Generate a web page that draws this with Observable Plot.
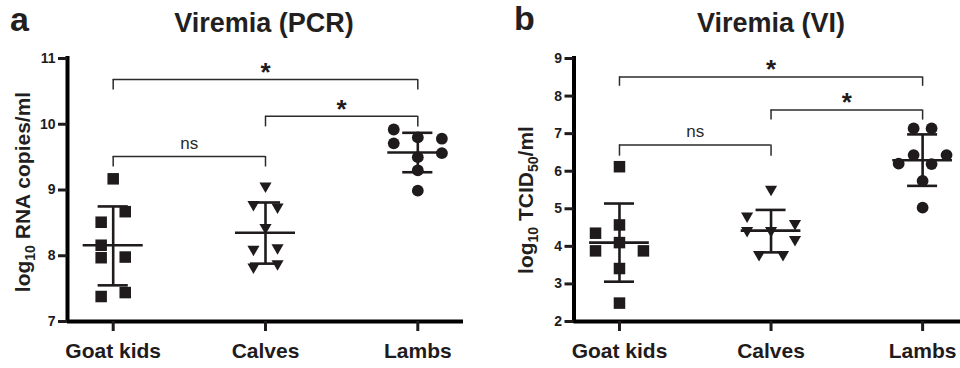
<!DOCTYPE html>
<html>
<head>
<meta charset="utf-8">
<script src="https://cdn.jsdelivr.net/npm/d3@7"></script>
<script src="https://cdn.jsdelivr.net/npm/@observablehq/plot@0.6"></script>
<style>
  html,body{margin:0;padding:0;background:#fff;}
  #fig{position:relative;width:960px;height:368px;overflow:hidden;font-family:"Liberation Sans",Arial,Helvetica,sans-serif;color:#231f20;}
  .panel{position:absolute;top:0;width:480px;height:368px;}
  .txt{position:absolute;white-space:nowrap;line-height:1;font-weight:bold;}
  .ylab{position:absolute;white-space:nowrap;line-height:1;font-weight:bold;font-size:21px;transform:translate(-50%,-50%) rotate(-90deg);}
  .ylab span{font-size:14px;position:relative;top:5px;}
</style>
</head>
<body>
<div id="fig">
  <div class="panel" id="pa" style="left:0"></div>
  <div class="panel" id="pb" style="left:480px"></div>
  <div class="txt" style="left:10px;top:2px;font-size:34px">a</div>
  <div class="txt" style="left:514px;top:1px;font-size:34px">b</div>
  <div class="txt" style="left:264px;top:10px;font-size:27px;transform:translateX(-50%)">Viremia (PCR)</div>
  <div class="txt" style="left:771px;top:10px;font-size:27px;transform:translateX(-50%)">Viremia (VI)</div>
  <div class="ylab" style="left:22px;top:192px">log<span>10</span> RNA copies/ml</div>
  <div class="ylab" style="left:525px;top:200px">log<span>10</span> TCID<span>50</span>/ml</div>
</div>
<script>
// ---------- shared ----------
const categories = ["Goat kids", "Calves", "Lambs"];
const compFrom  = ["Goat kids", "Calves", "Goat kids"];
const compTo    = ["Lambs", "Lambs", "Calves"];
const compLabel = ["*", "*", "ns"];

// ---------- panel a: Viremia (PCR), log10 RNA copies/ml ----------
const pcrTicks = [7, 8, 9, 10, 11];
const pcrGoatKids = [9.17, 8.67, 8.51, 8.16, 7.97, 7.98, 7.38, 7.44];
const pcrCalves   = [9.06, 8.78, 8.74, 8.43, 8.10, 8.12, 7.83, 7.88];
const pcrLambs    = [9.92, 9.71, 9.80, 9.78, 9.56, 9.50, 9.30, 8.99];
// column of each point inside its group's scatter spread
const pcrGoatKidsCol = [0, 1, -1, -1, -1, 1, -1, 1];
const pcrCalvesCol   = [0, -1, 1, 0, -1, 1, -1, 1];
const pcrLambsCol    = [-2, -2, 0, 2, 2, 0, 0, 0];
const pcrMean   = [8.16, 8.35, 9.57];
const pcrSdLow  = [7.55, 7.88, 9.27];
const pcrSdHigh = [8.75, 8.81, 9.87];
const pcrBracketY   = [10.68, 10.12, 9.51];
const pcrBracketLeg = [10.52, 9.96, 9.35];

// ---------- panel b: Viremia (VI), log10 TCID50/ml ----------
const viTicks = [2, 3, 4, 5, 6, 7, 8, 9];
const viGoatKids = [6.12, 4.57, 4.35, 4.10, 3.88, 3.88, 3.41, 2.49];
const viCalves   = [5.52, 4.81, 4.61, 4.42, 4.42, 4.18, 3.78, 3.78];
const viLambs    = [7.14, 7.14, 6.43, 6.43, 6.20, 6.19, 5.74, 5.03];
const viGoatKidsCol = [0, 0, -2, 0, -2, 2, 0, 0];
const viCalvesCol   = [0, -2, 2, -2, 0, 2, -1, 1];
const viLambsCol    = [-0.75, 0.75, 2, -0.75, -2, 0.75, 0, 0];
const viMean   = [4.10, 4.42, 6.29];
const viSdLow  = [3.06, 3.84, 5.61];
const viSdHigh = [5.14, 4.97, 6.98];
const viBracketY   = [8.51, 7.63, 6.70];
const viBracketLeg = [8.26, 7.36, 6.40];

// ---------- drawing ----------
const INK = "#1f1b1c";
const FONT = '"Liberation Sans", Arial, Helvetica, sans-serif';
const COL_STEP = 0.079;   // horizontal spread per column (category units)
const MEAN_HALF = 0.197;  // half width of mean bar
const CAP_HALF = 0.099;   // half width of SD caps
const markers = [
  {symbol: "square", r: 6.5, rotate: 0},
  {symbol: "triangle", r: 4.5, rotate: 180},
  {symbol: "circle", r: 5.9, rotate: 0}
];

function drawPanel(cfg) {
  const idx = c => categories.indexOf(c);
  const points = cfg.values.flatMap((vals, g) =>
    vals.map((v, k) => ({g, x: g + cfg.cols[g][k] * COL_STEP, y: v})));
  const stats = categories.map((c, i) => ({i, mean: cfg.mean[i], lo: cfg.lo[i], hi: cfg.hi[i]}));
  const comps = compFrom.map((f, k) => ({
    a: idx(f), b: idx(compTo[k]), label: compLabel[k], bar: cfg.barY[k], leg: cfg.legY[k]
  }));
  const legs = comps.flatMap(d => [{x: d.a, y1: d.leg, y2: d.bar}, {x: d.b, y1: d.leg, y2: d.bar}]);
  const ticks = cfg.ticks;

  return Plot.plot({
    width: 480,
    height: 368,
    marginTop: 58,
    marginBottom: 47,
    marginLeft: cfg.marginLeft,
    marginRight: cfg.marginRight,
    x: {type: "linear", domain: cfg.xDomain},
    y: {type: "linear", domain: [ticks[0], ticks[ticks.length - 1]]},
    style: {background: "transparent", fontFamily: FONT, color: INK, overflow: "visible"},
    marks: [
      // axis lines (x domain edge and lowest y tick)
      Plot.ruleX([cfg.xDomain[0]], {stroke: "black", strokeWidth: 4, strokeLinecap: "square"}),
      Plot.ruleY([ticks[0]], {stroke: "black", strokeWidth: 4}),
      // points
      ...markers.map((m, g) => Plot.dot(points.filter(p => p.g === g), {
        x: "x", y: "y", symbol: m.symbol, r: m.r, rotate: m.rotate, fill: INK, stroke: "none"
      })),
      // mean and SD
      Plot.ruleX(stats, {x: "i", y1: "lo", y2: "hi", stroke: INK, strokeWidth: 2.6}),
      Plot.ruleY(stats, {y: "mean", x1: d => d.i - MEAN_HALF, x2: d => d.i + MEAN_HALF, stroke: INK, strokeWidth: 2.6}),
      Plot.ruleY(stats, {y: "lo", x1: d => d.i - CAP_HALF, x2: d => d.i + CAP_HALF, stroke: INK, strokeWidth: 2.6}),
      Plot.ruleY(stats, {y: "hi", x1: d => d.i - CAP_HALF, x2: d => d.i + CAP_HALF, stroke: INK, strokeWidth: 2.6}),
      // significance brackets
      Plot.ruleY(comps, {y: "bar", x1: "a", x2: "b", stroke: "#2b2b2b", strokeWidth: 1.5}),
      Plot.ruleX(legs, {x: "x", y1: "y1", y2: "y2", stroke: "#2b2b2b", strokeWidth: 1.5}),
      Plot.text(comps.filter(d => d.label !== "ns"), {
        x: d => (d.a + d.b) / 2, y: "bar", text: "label", fontSize: 26, fontWeight: "bold", fill: INK, dy: -7
      }),
      Plot.text(comps.filter(d => d.label === "ns"), {
        x: d => (d.a + d.b) / 2, y: "bar", text: "label", fontSize: 17, fill: "#2b2b2b", dy: -13
      }),
      // axes
      Plot.axisY(ticks, {tickFormat: d3.format("d"), tickSize: 9, tickPadding: 3, fontSize: 14, fontWeight: "bold", strokeWidth: 3, stroke: INK, fill: INK, label: null}),
      Plot.axisX([0, 1, 2], {tickFormat: i => categories[i], tickSize: 10, tickPadding: 12, fontSize: 21, fontWeight: "bold", strokeWidth: 3, stroke: INK, fill: INK, label: null})
    ]
  });
}

document.getElementById("pa").appendChild(drawPanel({
  ticks: pcrTicks,
  values: [pcrGoatKids, pcrCalves, pcrLambs],
  cols: [pcrGoatKidsCol, pcrCalvesCol, pcrLambsCol],
  mean: pcrMean, lo: pcrSdLow, hi: pcrSdHigh,
  barY: pcrBracketY, legY: pcrBracketLeg,
  xDomain: [-0.3, 2.3], marginLeft: 67, marginRight: 17
}));

document.getElementById("pb").appendChild(drawPanel({
  ticks: viTicks,
  values: [viGoatKids, viCalves, viLambs],
  cols: [viGoatKidsCol, viCalvesCol, viLambsCol],
  mean: viMean, lo: viSdLow, hi: viSdHigh,
  barY: viBracketY, legY: viBracketLeg,
  xDomain: [-0.3, 2.25], marginLeft: 93.5, marginRight: 0
}));
</script>
</body>
</html>
